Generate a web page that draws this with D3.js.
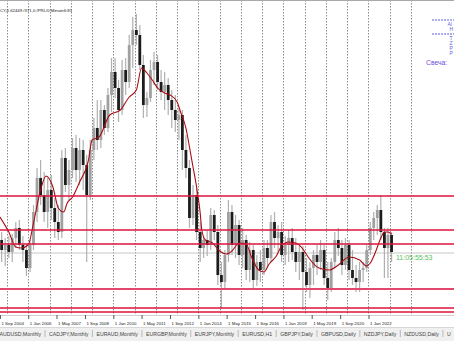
<!DOCTYPE html>
<html>
<head>
<meta charset="utf-8">
<script src="https://cdn.jsdelivr.net/npm/d3@7"></script>
<style>
body { margin: 0; background: #fff; overflow: hidden; }
svg { display: block; }
text { font-family: "Liberation Sans", Arial, sans-serif; }
</style>
</head>
<body>
<svg id="chart" width="454" height="341"></svg>
<script>
// bars are two months each, starting Sep 2004
var firstBar = "2004-09-01";

// [open, high, low, close]
var candles = [
  [0.720,0.736,0.676,0.700],[0.700,0.724,0.668,0.710],[0.710,0.728,0.684,0.696],[0.696,0.732,0.676,0.724],
  [0.724,0.756,0.704,0.744],[0.744,0.760,0.700,0.710],[0.710,0.728,0.676,0.700],[0.700,0.712,0.648,0.664],
  [0.664,0.720,0.656,0.710],[0.710,0.790,0.700,0.776],[0.776,0.864,0.756,0.844],[0.844,0.880,0.790,0.810],
  [0.810,0.856,0.756,0.776],[0.776,0.844,0.744,0.820],[0.820,0.850,0.760,0.784],[0.784,0.804,0.724,0.756],
  [0.756,0.790,0.720,0.736],[0.736,0.900,0.724,0.884],[0.884,0.904,0.816,0.830],[0.830,0.880,0.800,0.860],
  [0.860,0.924,0.844,0.904],[0.904,0.930,0.836,0.860],[0.860,0.924,0.830,0.900],[0.900,0.920,0.820,0.870],
  [0.870,0.890,0.676,0.810],[0.810,0.920,0.800,0.900],[0.900,0.964,0.880,0.944],[0.944,1.000,0.900,0.920],
  [0.920,1.000,0.904,0.980],[0.980,0.990,0.930,0.944],[0.944,1.024,0.936,1.010],[1.010,1.084,0.976,1.056],
  [1.056,1.084,1.004,1.024],[1.024,1.040,0.956,0.980],[0.980,1.080,0.970,1.060],[1.060,1.084,1.010,1.036],
  [1.036,1.130,1.024,1.110],[1.110,1.166,1.064,1.140],[1.140,1.172,1.110,1.130],[1.130,1.150,1.060,1.070],
  [1.070,1.090,0.964,0.990],[0.990,1.016,0.966,1.004],[1.004,1.080,0.996,1.060],[1.060,1.096,1.030,1.076],
  [1.076,1.090,1.020,1.036],[1.036,1.060,1.000,1.016],[1.016,1.056,0.980,1.030],[1.030,1.044,0.970,1.000],
  [1.000,1.020,0.944,0.980],[0.980,1.010,0.936,0.960],[0.960,0.984,0.920,0.970],[0.970,0.980,0.860,0.900],
  [0.900,0.930,0.844,0.864],[0.864,0.880,0.744,0.764],[0.764,0.830,0.750,0.810],[0.810,0.824,0.720,0.736],
  [0.736,0.756,0.676,0.704],[0.704,0.728,0.684,0.720],[0.720,0.740,0.688,0.710],[0.710,0.784,0.700,0.770],
  [0.770,0.780,0.720,0.736],[0.736,0.750,0.630,0.650],[0.650,0.676,0.584,0.636],[0.636,0.700,0.620,0.690],
  [0.690,0.800,0.676,0.776],[0.776,0.790,0.690,0.710],[0.710,0.770,0.684,0.750],[0.750,0.760,0.670,0.690],
  [0.690,0.744,0.664,0.720],[0.720,0.730,0.640,0.660],[0.660,0.716,0.636,0.700],[0.700,0.710,0.620,0.640],
  [0.640,0.690,0.628,0.676],[0.676,0.700,0.636,0.660],[0.660,0.720,0.650,0.704],[0.704,0.720,0.664,0.684],
  [0.684,0.770,0.676,0.756],[0.756,0.776,0.704,0.724],[0.724,0.750,0.696,0.736],[0.736,0.756,0.676,0.690],
  [0.690,0.728,0.670,0.710],[0.710,0.740,0.676,0.724],[0.724,0.744,0.680,0.696],[0.696,0.724,0.656,0.676],
  [0.676,0.710,0.640,0.696],[0.696,0.708,0.580,0.656],[0.656,0.684,0.616,0.630],[0.630,0.676,0.604,0.664],
  [0.664,0.700,0.630,0.690],[0.690,0.710,0.650,0.676],[0.676,0.720,0.660,0.700],[0.700,0.710,0.630,0.644],
  [0.644,0.676,0.600,0.624],[0.624,0.684,0.616,0.676],[0.676,0.736,0.664,0.720],[0.720,0.744,0.688,0.704],
  [0.704,0.720,0.650,0.670],[0.670,0.724,0.660,0.710],[0.710,0.720,0.640,0.660],[0.660,0.700,0.630,0.644],
  [0.644,0.670,0.616,0.636],[0.636,0.676,0.616,0.660],[0.660,0.676,0.636,0.664],[0.664,0.710,0.656,0.700],
  [0.700,0.756,0.690,0.744],[0.744,0.776,0.720,0.764],[0.764,0.790,0.730,0.780],[0.780,0.810,0.720,0.736],
  [0.736,0.744,0.644,0.704],[0.704,0.744,0.644,0.730],[0.730,0.736,0.676,0.696]
];

// moving average
var maPoints = [
  ["2004-09",0.766],["2005-02",0.736],["2005-06",0.706],["2005-09",0.704],["2006-01",0.710],["2006-04",0.754],
  ["2006-08",0.820],["2006-11",0.848],["2007-03",0.826],["2007-06",0.784],["2007-09",0.776],["2007-11",0.794],
  ["2008-02",0.806],["2008-06",0.836],["2008-11",0.880],["2009-01",0.920],["2009-05",0.926],["2009-11",0.970],
  ["2010-05",0.980],["2010-10",1.006],["2011-02",1.020],["2011-05",1.064],["2011-08",1.054],["2011-11",1.040],
  ["2012-02",1.024],["2012-06",1.014],["2012-09",1.010],["2013-01",0.996],["2013-03",0.976],["2013-06",0.944],
  ["2013-08",0.906],["2013-10",0.866],["2013-12",0.826],["2014-02",0.774],["2014-03",0.740],["2014-05",0.720],
  ["2014-09",0.714],["2015-01",0.698],["2015-05",0.692],["2015-08",0.698],["2015-12",0.714],["2016-04",0.712],
  ["2016-07",0.686],["2016-11",0.660],["2017-02",0.656],["2017-05",0.672],["2017-09",0.688],["2017-12",0.708],
  ["2018-04",0.716],["2018-08",0.714],["2018-12",0.702],["2019-03",0.686],["2019-09",0.664],["2020-03",0.660],
  ["2020-08",0.670],["2021-02",0.686],["2021-08",0.680],["2021-12",0.668],["2022-02",0.674],["2022-05",0.696],
  ["2022-08",0.724],["2022-10",0.736],["2022-12",0.736],["2023-02",0.732]
];

var levels = [0.808, 0.740, 0.712, 0.584, 0.576];
var supportLevel = 0.622;
var bidPrice = 0.694;

var timeLabels = ["2004-09-01","2006-01-01","2007-05-01","2008-09-01","2010-01-01","2011-05-01","2012-09-01",
  "2014-01-01","2015-05-01","2016-09-01","2018-01-01","2019-05-01","2020-09-01","2022-01-01"];

var tabs = ["AUDUSD,Monthly","CADJPY,Monthly","EURAUD,Monthly","EURGBP,Monthly","EURJPY,Monthly","EURUSD,H1",
  "GBPJPY,Daily","GBPUSD,Daily","NZDJPY,Daily","NZDUSD,Daily","U"];

var headerText = "CY,0.62449 /371,0 /PRL/0 Minute6:81";
var clockText = "11:05:55:53";
var panelLetters = ["Al","H","T","Z","P","P"];

var W = 454, H = 341, plotBottom = 315;
var svg = d3.select("#chart");

var x = d3.scaleUtc()
  .domain([Date.UTC(2005,0,1), Date.UTC(2024,0,1)])
  .range([7, 411]);
var y = d3.scaleLinear().domain([0.576, 1.2]).range([312, 0]);

var start = new Date(firstBar + "T00:00:00Z");
var bars = candles.map(function(c, i) {
  return { date: d3.utcMonth.offset(start, 2*i + 1), o: c[0], h: c[1], l: c[2], c: c[3] };
});

svg.append("defs").append("clipPath").attr("id", "plot")
  .append("rect").attr("x", 0).attr("y", 0).attr("width", W).attr("height", plotBottom);

var plot = svg.append("g").attr("clip-path", "url(#plot)");

// top border
svg.append("line").attr("x1", 0).attr("x2", W).attr("y1", 0.5).attr("y2", 0.5)
  .attr("stroke", "#a8a8a8");

// yearly grid
plot.selectAll(".grid").data(d3.utcYear.range(new Date(Date.UTC(2005,0,1)), new Date(Date.UTC(2025,0,1))))
  .enter().append("line")
  .attr("x1", d => Math.round(x(d)) + 0.5).attr("x2", d => Math.round(x(d)) + 0.5)
  .attr("y1", 0).attr("y2", plotBottom)
  .attr("stroke", "#8c8c8c").attr("stroke-width", 1).attr("stroke-dasharray", "1.5,1.5");

// bid line
plot.append("line").attr("x1", 0).attr("x2", W)
  .attr("y1", y(bidPrice)).attr("y2", y(bidPrice))
  .attr("stroke", "#c8c8c8").attr("stroke-width", 1);

// wicks
plot.selectAll(".wick").data(bars).enter().append("line")
  .attr("x1", d => x(d.date)).attr("x2", d => x(d.date))
  .attr("y1", d => y(d.h)).attr("y2", d => y(d.l))
  .attr("stroke", "#b0b0b0").attr("stroke-width", 1.2);

// bodies
var bw = 2.8;
plot.selectAll(".body").data(bars).enter().append("rect")
  .attr("x", d => x(d.date) - bw/2)
  .attr("y", d => y(Math.max(d.o, d.c)))
  .attr("width", bw)
  .attr("height", d => Math.max(1, Math.abs(y(d.o) - y(d.c))))
  .attr("fill", d => d.c >= d.o ? "#a0a0a0" : "#1c1c1c");

// moving average
var maLine = d3.line()
  .x(d => x(new Date(d[0] + "-01T00:00:00Z")))
  .y(d => y(d[1]))
  .curve(d3.curveMonotoneX);
plot.append("path").datum(maPoints).attr("d", maLine)
  .attr("fill", "none").attr("stroke", "#a80c14").attr("stroke-width", 1.1);

// horizontal levels
plot.selectAll(".lvl").data(levels).enter().append("line")
  .attr("x1", 0).attr("x2", W)
  .attr("y1", d => y(d)).attr("y2", d => y(d))
  .attr("stroke", "#dc143c").attr("stroke-width", 1.5);
plot.append("line").attr("x1", 0).attr("x2", W)
  .attr("y1", y(supportLevel)).attr("y2", y(supportLevel))
  .attr("stroke", "#e0466e").attr("stroke-width", 2.2);

// bottom frame
svg.append("line").attr("x1", 0).attr("x2", W).attr("y1", plotBottom + 0.5).attr("y2", plotBottom + 0.5)
  .attr("stroke", "#d0d0d0");

// time axis
var fmt = d3.utcFormat("%-d %b %Y");
var tl = svg.append("g");
timeLabels.forEach(function(s) {
  var d = new Date(s + "T00:00:00Z"), px = x(d);
  tl.append("line").attr("x1", px + 0.5).attr("x2", px + 0.5)
    .attr("y1", plotBottom).attr("y2", plotBottom + 4).attr("stroke", "#555");
  tl.append("text").attr("x", px + 1.5).attr("y", 324.5)
    .attr("font-size", 4.4).attr("fill", "#222").text(fmt(d));
});

// tab bar
svg.append("rect").attr("x", 0).attr("y", 327).attr("width", W).attr("height", H - 327)
  .attr("fill", "#f0f0f0");
svg.append("line").attr("x1", 0).attr("x2", W).attr("y1", 327.5).attr("y2", 327.5).attr("stroke", "#d8d8d8");
var tx = -0.5;
tabs.forEach(function(name, i) {
  var t = svg.append("text").attr("x", tx).attr("y", 335.5)
    .attr("font-size", 5.2).attr("fill", "#444").text(name);
  tx += t.node().getComputedTextLength() + 4;
  if (i < tabs.length - 1) {
    svg.append("line").attr("x1", tx).attr("x2", tx).attr("y1", 330).attr("y2", 337)
      .attr("stroke", "#a0a0a0").attr("stroke-width", 0.7);
  }
  tx += 4;
});

// header text
svg.append("text").attr("x", 0).attr("y", 11.5).attr("font-size", 4.3).attr("fill", "#222").text(headerText);

// clock
svg.append("text").attr("x", 396).attr("y", 259.5).attr("font-size", 7).attr("fill", "#5cc05c").text(clockText);

// right panel
[20, 34].forEach(function(py) {
  svg.append("line").attr("x1", 432).attr("x2", W).attr("y1", py).attr("y2", py)
    .attr("stroke", "#5a5ae0").attr("stroke-width", 1).attr("stroke-dasharray", "2,1");
});
var letterY = [25.5, 30.5, 39.5, 44.5, 49.5, 55];
panelLetters.forEach(function(s, i) {
  svg.append("text").attr("x", s === "Al" ? 447.5 : 449.5).attr("y", letterY[i])
    .attr("font-size", 5).attr("fill", "#6464dc").text(s);
});
svg.append("text").attr("x", 426).attr("y", 64.5).attr("font-size", 6.8)
  .attr("fill", "#6a50e0").text("Свеча:");
</script>
</body>
</html>
